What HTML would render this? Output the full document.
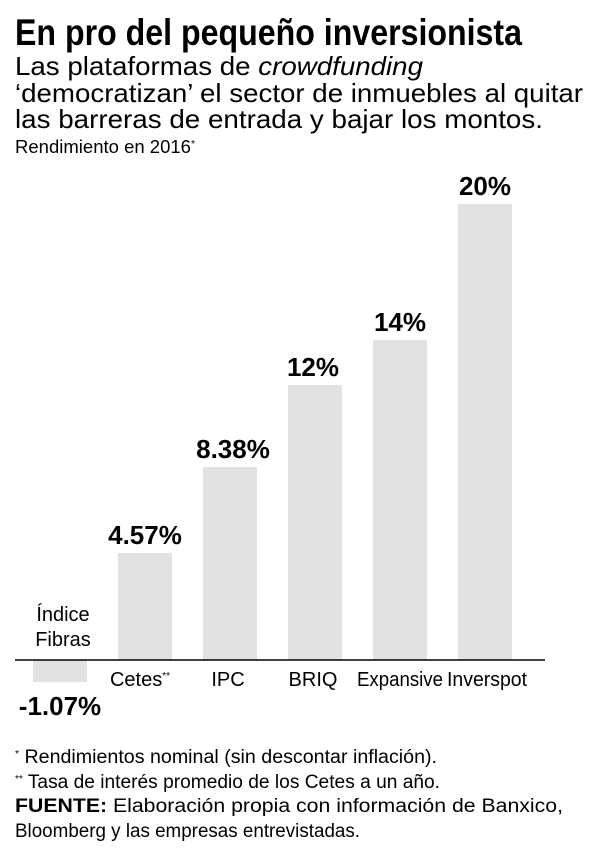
<!DOCTYPE html>
<html><head><meta charset="utf-8"><style>
body{margin:0;background:#fff;}
svg{display:block;}
text{font-family:"Liberation Sans",sans-serif;fill:#000;}
</style></head><body>
<svg width="600" height="850" viewBox="0 0 600 850">
<text x="15" y="45" font-size="37" font-weight="bold" textLength="507" lengthAdjust="spacingAndGlyphs">En pro del pequeño inversionista</text>
<text x="15" y="75" font-size="26" textLength="408" lengthAdjust="spacingAndGlyphs">Las plataformas de <tspan font-style="italic">crowdfunding</tspan></text>
<text x="15" y="102" font-size="26" textLength="568" lengthAdjust="spacingAndGlyphs">‘democratizan’ el sector de inmuebles al quitar</text>
<text x="15" y="128" font-size="26" textLength="528" lengthAdjust="spacingAndGlyphs">las barreras de entrada y bajar los montos.</text>
<text x="15" y="153" font-size="18" textLength="180" lengthAdjust="spacingAndGlyphs">Rendimiento en 2016<tspan font-size="10" dy="-6">*</tspan></text>

<g fill="#e2e2e2">
<rect x="33" y="660" width="54" height="22"/>
<rect x="118" y="553" width="54" height="107"/>
<rect x="203" y="467" width="54" height="193"/>
<rect x="288" y="385" width="54" height="275"/>
<rect x="373" y="340" width="54" height="320"/>
<rect x="458" y="204" width="54" height="456"/>
</g>
<line x1="15" y1="660" x2="545" y2="660" stroke="#000" stroke-width="1.5"/>

<g font-size="26" font-weight="bold" text-anchor="middle">
<text x="145" y="544">4.57%</text>
<text x="233" y="458">8.38%</text>
<text x="313" y="376">12%</text>
<text x="400" y="331">14%</text>
<text x="485" y="195">20%</text>
<text x="60" y="715">-1.07%</text>
</g>

<g font-size="20" text-anchor="middle">
<text x="63" y="621">Índice</text>
<text x="63" y="646">Fibras</text>
<text x="140" y="686">Cetes<tspan font-size="10" dy="-7">**</tspan></text>
<text x="228" y="686">IPC</text>
<text x="313" y="686">BRIQ</text>
<text x="400" y="686" textLength="86" lengthAdjust="spacingAndGlyphs">Expansive</text>
<text x="487" y="686" textLength="80" lengthAdjust="spacingAndGlyphs">Inverspot</text>
</g>

<g font-size="19">
<text x="15" y="763" textLength="422" lengthAdjust="spacingAndGlyphs"><tspan font-size="10" dy="-6">*</tspan><tspan dy="6"> Rendimientos nominal (sin descontar inflación).</tspan></text>
<text x="15" y="788" textLength="425" lengthAdjust="spacingAndGlyphs"><tspan font-size="10" dy="-6">**</tspan><tspan dy="6"> Tasa de interés promedio de los Cetes a un año.</tspan></text>
<text x="15" y="812" textLength="548" lengthAdjust="spacingAndGlyphs"><tspan font-weight="bold">FUENTE:</tspan> Elaboración propia con información de Banxico,</text>
<text x="15" y="837" textLength="345" lengthAdjust="spacingAndGlyphs">Bloomberg y las empresas entrevistadas.</text>
</g>
</svg>
</body></html>
